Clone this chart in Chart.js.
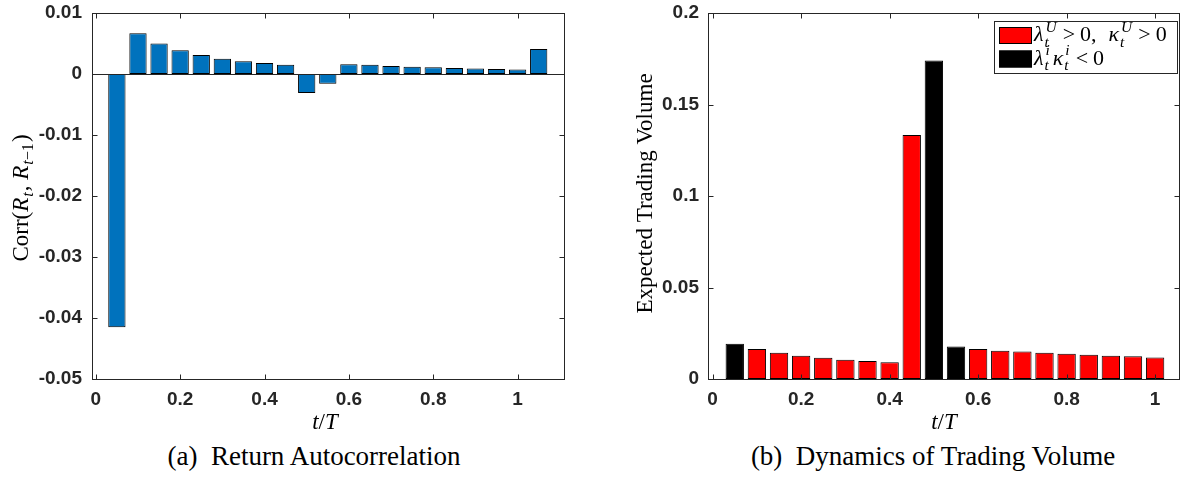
<!DOCTYPE html>
<html>
<head>
<meta charset="utf-8">
<script src="https://cdn.jsdelivr.net/npm/chart.js@4.4.1/dist/chart.umd.min.js"></script>
<style>
    html, body { margin: 0; padding: 0; background: #fff; }
    body { position: relative; width: 1180px; height: 487px; overflow: hidden; }
    canvas { position: absolute; top: 0; }
    #autocorrChart { left: 0; }
    #volumeChart { left: 600px; }
    .caption {
        position: absolute;
        top: 443px;
        width: 500px;
        text-align: center;
        font: 27px "Liberation Serif", serif;
        line-height: 27px;
        color: #000;
        white-space: pre;
    }
</style>
</head>
<body>
<canvas id="autocorrChart" width="600" height="440"></canvas>
<canvas id="volumeChart" width="590" height="440"></canvas>
<div class="caption" style="left: 64px;">(a)  Return Autocorrelation</div>
<div class="caption" style="left: 683px;">(b)  Dynamics of Trading Volume</div>
<script>
// panel (a): one-period return autocorrelation
const lagTimes = [0.05, 0.10, 0.15, 0.20, 0.25, 0.30, 0.35, 0.40, 0.45, 0.50, 0.55,
                  0.60, 0.65, 0.70, 0.75, 0.80, 0.85, 0.90, 0.95, 1.00, 1.05];
const autocorr = [-0.0415, 0.0067, 0.0050, 0.0039, 0.0031, 0.0025, 0.0021, 0.0018, 0.0015, -0.0031, -0.0016,
                  0.0016, 0.0015, 0.0013, 0.0012, 0.0011, 0.00098, 0.00092, 0.00082, 0.00075, 0.0041];
const autocorrYTicks = [-0.05, -0.04, -0.03, -0.02, -0.01, 0, 0.01];

// panel (b): expected trading volume and sign regime of each period
const volTimes = [0.05, 0.10, 0.15, 0.20, 0.25, 0.30, 0.35, 0.40, 0.45, 0.50,
                  0.55, 0.60, 0.65, 0.70, 0.75, 0.80, 0.85, 0.90, 0.95, 1.00];
const volume = [0.0193, 0.0164, 0.0144, 0.0127, 0.0116, 0.0105, 0.0098, 0.0091, 0.1333, 0.1741,
                0.0177, 0.0164, 0.0155, 0.0150, 0.0144, 0.0138, 0.0133, 0.0127, 0.0124, 0.0118];
// 1 where lambda*kappa < 0, 0 where both uninformed coefficients are positive
const oppositeSign = [1, 0, 0, 0, 0, 0, 0, 0, 0, 1, 1, 0, 0, 0, 0, 0, 0, 0, 0, 0];
const volumeYTicks = [0, 0.05, 0.1, 0.15, 0.2];

const timeTicks = [0, 0.2, 0.4, 0.6, 0.8, 1];

const AXIS_COLOR = "#262626";
const BLUE = "#0072BD";
const RED = "#FF0000";
const BLACK = "#000000";
const TICK_FONT = { family: "Liberation Sans", size: 19, weight: "bold" };
const SERIF = '"Liberation Serif"';

function fmtTick(v) {
    return Math.abs(v) < 1e-9 ? "0" : String(parseFloat(v.toFixed(3)));
}

// draws (or just measures) a row of math runs: {s, i} plain/italic text,
// {gap} extra space, {sub, sup} stacked scripts made of the same kind of runs
function mathRuns(ctx, runs, x, y, size, draw) {
    let cx = x;
    runs.forEach((r) => {
        if (r.gap) {
            cx += r.gap;
        } else if (r.sub || r.sup) {
            const ss = size * 0.7;
            const both = r.sub && r.sup;
            const wSup = r.sup ? mathRuns(ctx, r.sup, cx + 2, y - size * 0.42, ss, draw) : 0;
            const wSub = r.sub ? mathRuns(ctx, r.sub, cx + 1, y + size * (both ? 0.27 : 0.2), ss, draw) : 0;
            cx += Math.max(wSup + 2, wSub + 1) + 1;
        } else {
            ctx.font = (r.i ? "italic " : "") + size + "px " + SERIF;
            if (draw) {
                ctx.fillText(r.s, cx, y);
            }
            cx += ctx.measureText(r.s).width;
        }
    });
    return cx - x;
}

function drawLabel(ctx, runs, cx, baseline, size, rotated) {
    ctx.save();
    ctx.fillStyle = "#000";
    ctx.textBaseline = "alphabetic";
    ctx.textAlign = "left";
    const w = mathRuns(ctx, runs, 0, 0, size, false);
    if (rotated) {
        ctx.translate(baseline, cx);
        ctx.rotate(-Math.PI / 2);
        mathRuns(ctx, runs, -w / 2, 0, size, true);
    } else {
        mathRuns(ctx, runs, cx - w / 2, baseline, size, true);
    }
    ctx.restore();
}

// axes box with inward tick marks, zero line, axis titles and the legend
const axesFrame = {
    id: "axesFrame",
    afterDatasetsDraw(chart, args, opts) {
        const { ctx, chartArea: a, scales } = chart;
        const left = Math.round(a.left) + 0.5;
        const right = Math.round(a.right) + 0.5;
        const top = Math.round(a.top) + 0.5;
        const bottom = Math.round(a.bottom) + 0.5;
        const tl = 5;
        ctx.save();
        ctx.strokeStyle = AXIS_COLOR;
        ctx.lineWidth = 1;
        ctx.beginPath();
        if (opts.zeroLine) {
            const y0 = Math.round(scales.y.getPixelForValue(0)) + 0.5;
            ctx.moveTo(left, y0);
            ctx.lineTo(right, y0);
        }
        scales.x.ticks.forEach((t) => {
            const px = Math.round(scales.x.getPixelForValue(t.value)) + 0.5;
            ctx.moveTo(px, bottom);
            ctx.lineTo(px, bottom - tl);
            ctx.moveTo(px, top);
            ctx.lineTo(px, top + tl);
        });
        scales.y.ticks.forEach((t) => {
            const py = Math.round(scales.y.getPixelForValue(t.value)) + 0.5;
            ctx.moveTo(left, py);
            ctx.lineTo(left + tl, py);
            ctx.moveTo(right, py);
            ctx.lineTo(right - tl, py);
        });
        ctx.stroke();
        ctx.strokeRect(left, top, right - left, bottom - top);
        ctx.restore();

        drawLabel(ctx, opts.yTitle, opts.yTitleCenter, opts.yTitleBaseline, 23, true);
        drawLabel(ctx, opts.xTitle, opts.xTitleCenter, opts.xTitleBaseline, 23, false);

        if (opts.legend) {
            const lg = opts.legend;
            ctx.save();
            ctx.fillStyle = "#fff";
            ctx.fillRect(lg.x, lg.y, lg.w, lg.h);
            ctx.strokeStyle = AXIS_COLOR;
            ctx.lineWidth = 1;
            ctx.strokeRect(lg.x + 0.5, lg.y + 0.5, lg.w, lg.h);
            lg.items.forEach((item, i) => {
                const sy = lg.y + 6 + i * 23.5;
                ctx.fillStyle = item.color;
                ctx.fillRect(lg.x + 5, sy, 33, 17);
                ctx.strokeStyle = "#000";
                ctx.strokeRect(lg.x + 5.5, sy + 0.5, 32, 16);
                ctx.fillStyle = "#000";
                ctx.textBaseline = "alphabetic";
                ctx.textAlign = "left";
                mathRuns(ctx, item.label, lg.x + 40, sy + 14, 22, true);
            });
            ctx.restore();
        }
    },
};

const tOverT = [{ s: "t", i: true }, { s: "/", i: false }, { s: "T", i: true }];

function baseOptions(xMin, xMax, yMin, yMax, yTicks, padRight, yWidth, yPad, frame) {
    return {
        responsive: false,
        animation: false,
        layout: { padding: { top: 13, right: padRight, left: 0, bottom: 0 } },
        plugins: {
            legend: { display: false },
            tooltip: { enabled: false },
            axesFrame: frame,
        },
        scales: {
            x: {
                type: "linear",
                min: xMin,
                max: xMax,
                offset: false,
                grid: { display: false, drawTicks: false },
                border: { display: false },
                ticks: { font: TICK_FONT, color: AXIS_COLOR, padding: 9, maxRotation: 0, callback: fmtTick },
                afterBuildTicks: (s) => { s.ticks = timeTicks.map((v) => ({ value: v })); },
                afterFit: (s) => {
                    s.height = 61;
                    s.paddingLeft = 0;
                    s.paddingRight = 0;
                },
            },
            y: {
                min: yMin,
                max: yMax,
                grid: { display: false, drawTicks: false },
                border: { display: false },
                ticks: { font: TICK_FONT, color: AXIS_COLOR, padding: yPad, callback: fmtTick },
                afterBuildTicks: (s) => { s.ticks = yTicks.map((v) => ({ value: v })); },
                afterFit: (s) => {
                    s.width = yWidth;
                    s.paddingTop = 0;
                    s.paddingBottom = 0;
                },
            },
        },
    };
}

new Chart(document.getElementById("autocorrChart"), {
    type: "bar",
    data: {
        datasets: [{
            data: lagTimes.map((t, i) => ({ x: t, y: autocorr[i] })),
            backgroundColor: BLUE,
            borderColor: BLACK,
            borderWidth: 1,
            borderSkipped: false,
            categoryPercentage: 1,
            barPercentage: 0.82,
        }],
    },
    options: baseOptions(-0.009, 1.11, -0.05, 0.01, autocorrYTicks, 36, 92, 10, {
        zeroLine: true,
        yTitle: [
            { s: "Corr(", i: false }, { s: "R", i: true }, { sub: [{ s: "t", i: true }] },
            { s: ", ", i: false }, { s: "R", i: true },
            { sub: [{ s: "t", i: true }, { s: "\u22121", i: false }] }, { s: ")", i: false },
        ],
        yTitleCenter: 198,
        yTitleBaseline: 28,
        xTitle: tOverT,
        xTitleCenter: 325,
        xTitleBaseline: 429,
    }),
    plugins: [axesFrame],
});

new Chart(document.getElementById("volumeChart"), {
    type: "bar",
    data: {
        datasets: [{
            data: volTimes.map((t, i) => ({ x: t, y: volume[i] })),
            backgroundColor: oppositeSign.map((f) => (f ? BLACK : RED)),
            borderColor: BLACK,
            borderWidth: 1,
            borderSkipped: false,
            categoryPercentage: 1,
            barPercentage: 0.83,
        }],
    },
    options: baseOptions(-0.0105, 1.054, 0, 0.2, volumeYTicks, 11, 108, 9, {
        zeroLine: false,
        yTitle: [{ s: "Expected Trading Volume", i: false }],
        yTitleCenter: 193.5,
        yTitleBaseline: 51.7,
        xTitle: tOverT,
        xTitleCenter: 344,
        xTitleBaseline: 429,
        legend: {
            x: 394, y: 21, w: 183, h: 52,
            items: [
                {
                    color: RED,
                    label: [
                        { s: "\u03bb", i: true }, { sup: [{ s: "U", i: true }], sub: [{ s: "t", i: true }] },
                        { gap: 5 }, { s: ">", i: false }, { gap: 5 }, { s: "0,", i: false }, { gap: 12 },
                        { s: "\u03ba", i: true }, { sup: [{ s: "U", i: true }], sub: [{ s: "t", i: true }] },
                        { gap: 5 }, { s: ">", i: false }, { gap: 5 }, { s: "0", i: false },
                    ],
                },
                {
                    color: BLACK,
                    label: [
                        { s: "\u03bb", i: true }, { sup: [{ s: "i", i: true }], sub: [{ s: "t", i: true }] },
                        { gap: 2 },
                        { s: "\u03ba", i: true }, { sup: [{ s: "i", i: true }], sub: [{ s: "t", i: true }] },
                        { gap: 5 }, { s: "<", i: false }, { gap: 5 }, { s: "0", i: false },
                    ],
                },
            ],
        },
    }),
    plugins: [axesFrame],
});
</script>
</body>
</html>
